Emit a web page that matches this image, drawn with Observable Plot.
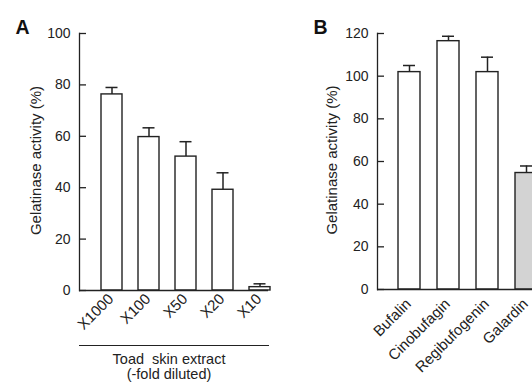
<!DOCTYPE html>
<html>
<head>
<meta charset="utf-8">
<script src="https://cdn.jsdelivr.net/npm/d3@7"></script>
<script src="https://cdn.jsdelivr.net/npm/@observablehq/plot@0.6"></script>
<style>
  html, body { margin: 0; padding: 0; background: #fff; overflow: hidden; }
  #wrap { position: relative; width: 532px; height: 384px; overflow: hidden; background: #fff; }
  #wrap svg { position: absolute; top: 0; overflow: visible; }
  #rule { position: absolute; left: 79px; top: 345px; width: 190px; height: 0; border-top: 1.3px solid #222; }
</style>
</head>
<body>
<div id="wrap"><div id="rule"></div></div>
<script>
// Panel A: toad skin extract dilutions
const dilutions = ["X1000", "X100", "X50", "X20", "X10"];
const extractMean = [76.3, 59.7, 52.1, 39.2, 1.3];
const extractErr = [2.7, 3.6, 5.8, 6.6, 1.3];
const ticksA = [0, 20, 40, 60, 80, 100];

// Panel B: compounds
const compounds = ["Bufalin", "Cinobufagin", "Regibufogenin", "Galardin"];
const compoundMean = [101.9, 116.4, 101.9, 54.6];
const compoundErr = [3.1, 2.3, 7.0, 3.3];
const ticksB = [0, 20, 40, 60, 80, 100, 120];

const yLabel = "Gelatinase activity (%)";
const captionLines = ["Toad  skin extract", "(-fold diluted)"];

const dataA = dilutions.map((name, i) => ({name, mean: extractMean[i], top: extractMean[i] + extractErr[i]}));
const dataB = compounds.map((name, i) => ({name, mean: compoundMean[i], top: compoundMean[i] + compoundErr[i]}));

const ink = "#222";
const font = "'Liberation Sans', Arial, sans-serif";

function panel({data, domainX, rangeX, padOuter, ticks, yMax, width, marginLeft, marginRight, marginBottom, letter, capInset, labelDx, xPad, xDx, fill, extra = []}) {
  return Plot.plot({
    width, height: 384,
    marginTop: 33, marginBottom, marginLeft, marginRight,
    style: {fontFamily: font, fontSize: "14px", color: ink, background: "transparent"},
    x: {type: "band", domain: domainX, range: rangeX, paddingInner: 0.44, paddingOuter: padOuter, label: null},
    y: {domain: [0, yMax], label: null},
    marks: [
      Plot.barY(data, {x: "name", y1: 0, y2: "mean", fill, stroke: ink, strokeWidth: 1.4}),
      Plot.ruleX(data, {x: "name", y1: "mean", y2: "top", stroke: ink, strokeWidth: 1.5}),
      Plot.tickY(data, {x: "name", y: "top", stroke: ink, strokeWidth: 1.5, insetLeft: capInset, insetRight: capInset}),
      Plot.frame({anchor: "left", stroke: ink, strokeWidth: 1.3}),
      Plot.ruleY([0], {stroke: ink, strokeWidth: 1.3}),
      Plot.axisY({ticks, tickSize: -7, tickPadding: 16, label: null, fontSize: 14, stroke: ink, strokeWidth: 1.3}),
      Plot.axisX({tickSize: 0, tickRotate: -45, tickPadding: xPad, dx: xDx, label: null, fontSize: 15, fill: ink}),
      Plot.text([yLabel], {frameAnchor: "left", textAnchor: "middle", rotate: -90, dx: labelDx, dy: -1.5, fontSize: 15, fill: ink}),
      Plot.text([letter], {frameAnchor: "top-left", textAnchor: "start", lineAnchor: "bottom", dx: -64, fontSize: 19.5, fontWeight: "bold", fill: "#111"}),
      ...extra
    ]
  });
}

const chartA = panel({
  data: dataA, domainX: dilutions, rangeX: [79, 291.4], padOuter: 0.56, ticks: ticksA, yMax: 100,
  width: 270, marginLeft: 79, marginRight: 2, marginBottom: 94, letter: "A", capInset: 4.5, labelDx: -43,
  xPad: 6, xDx: -1, fill: "white",
  extra: [
    Plot.text([captionLines[0]], {frameAnchor: "bottom", lineAnchor: "top", dx: -5, dy: 63, fontSize: 14.5, fill: ink}),
    Plot.text([captionLines[1]], {frameAnchor: "bottom", lineAnchor: "top", dx: -5, dy: 78, fontSize: 14.5, fill: ink})
  ]
});

const chartB = panel({
  data: dataB, domainX: compounds, rangeX: [107, 287.5], padOuter: 0.516, ticks: ticksB, yMax: 120,
  width: 300, marginLeft: 107, marginRight: 0, marginBottom: 95, letter: "B", capInset: 5, labelDx: -45,
  xPad: 12, xDx: -1,
  fill: d => d.name === "Galardin" ? "#d3d3d3" : "white"
});

chartA.style.left = "0px";
chartB.style.left = "270px";
const wrap = document.getElementById("wrap");
wrap.appendChild(chartA);
wrap.appendChild(chartB);
</script>
</body>
</html>
